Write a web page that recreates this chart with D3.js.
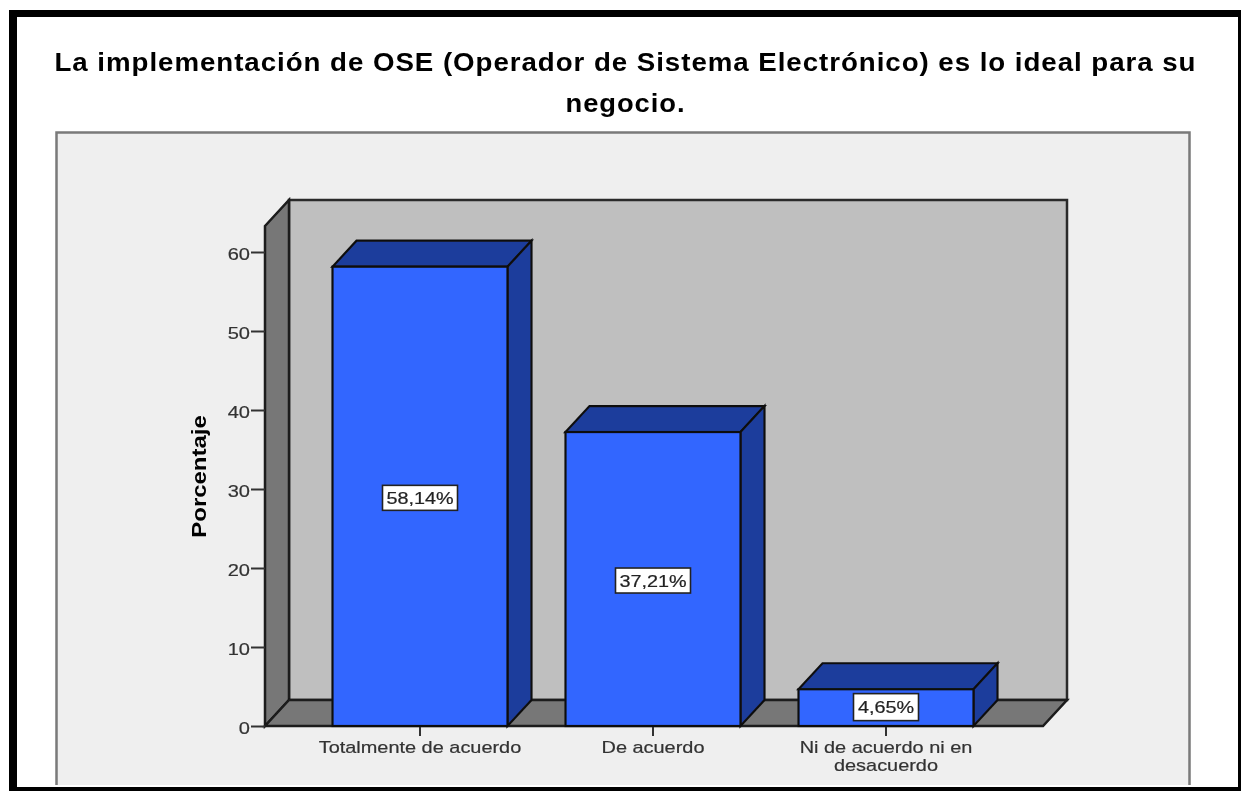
<!DOCTYPE html>
<html lang="es"><head><meta charset="utf-8">
<script src="https://cdn.jsdelivr.net/npm/d3@7/dist/d3.min.js"></script>
<style>html,body{margin:0;padding:0;background:#fff}svg{display:block;font-family:"Liberation Sans",Arial,sans-serif}</style>
</head><body><div id="chart"></div>
<script>
const categories = ["Totalmente de acuerdo", "De acuerdo", "Ni de acuerdo ni en desacuerdo"];
const percentages = [58.14, 37.21, 4.65];
const valueLabels = ["58,14%", "37,21%", "4,65%"];
const yTicks = [0, 10, 20, 30, 40, 50, 60];
const titleLines = ["La implementación de OSE (Operador de Sistema Electrónico) es lo ideal para su", "negocio."];
const yTitle = "Porcentaje";

const W = 1241, H = 791;
const svg = d3.select("#chart").append("svg").attr("width", W).attr("height", H);
const defs = svg.append("defs");
defs.append("filter").attr("id","soft").attr("filterUnits","userSpaceOnUse")
  .attr("x",0).attr("y",0).attr("width",W).attr("height",H)
  .append("feGaussianBlur").attr("stdDeviation",0.6);

// frame, unblurred
svg.append("rect").attr("x",9).attr("y",10).attr("width",W).attr("height",H).attr("fill","#000");
svg.append("rect").attr("x",17).attr("y",17).attr("width",1221).attr("height",770).attr("fill","#fff");

const g = svg.append("g").attr("filter","url(#soft)");

const dark = "#111";
const dx = 24, dy = -26;
const y = d3.scaleLinear().domain([0,60]).range([726,252]);
const x = d3.scaleBand().domain(categories).range([303.5,1002.5]).paddingInner(0.249).paddingOuter(0.1245);
const floorY = y(0), left = 265, right = 1043, topY = 226;
const line = d3.line();
// the reference's text is horizontally stretched: widen each text by a factor
const stretch = (sel, k) => sel.each(function(){
  const len = this.getComputedTextLength();
  d3.select(this).attr("textLength", len*k).attr("lengthAdjust","spacingAndGlyphs");
});
const thicken = (sel, c, w) => sel.attr("stroke",c).attr("stroke-width",w).attr("paint-order","stroke");

g.append("path").attr("d",line([[56.5,785],[56.5,132.5],[1189.5,132.5],[1189.5,785]])+"Z")
  .attr("fill","#efefef").attr("stroke","none");
g.append("path").attr("d",line([[56.5,785],[56.5,132.5],[1189.5,132.5],[1189.5,785]]))
  .attr("fill","none").attr("stroke","#7a7a7a").attr("stroke-width",2.5);
g.append("g").selectAll("text").data(titleLines).join("text")
  .attr("x",625.5).attr("y",(d,i)=>71+i*41).attr("text-anchor","middle")
  .attr("font-size",26).attr("font-weight","bold").attr("fill","#000")
  .attr("letter-spacing",0.9)
  .text(d=>d)
  .each(function(d,i){
    d3.select(this).attr("textLength",i===0?1142:120).attr("lengthAdjust","spacingAndGlyphs");
  });

// 3D box
g.append("path").attr("d",line([[left+dx,topY+dy],[right+dx,topY+dy],[right+dx,floorY+dy],[left+dx,floorY+dy]])+"Z")
  .attr("fill","#bfbfbf").attr("stroke","#2a2a2a").attr("stroke-width",2.5);
g.append("path").attr("d",line([[left,topY],[left+dx,topY+dy],[left+dx,floorY+dy],[left,floorY]])+"Z")
  .attr("fill","#777").attr("stroke","#1a1a1a").attr("stroke-width",2.5);
g.append("path").attr("d",line([[left,floorY],[left+dx,floorY+dy],[right+dx,floorY+dy],[right,floorY]])+"Z")
  .attr("fill","#777").attr("stroke","#1a1a1a").attr("stroke-width",2.5);

// axes
const yAxis = g.append("g").attr("transform",`translate(${left},0)`)
  .call(d3.axisLeft(y).tickValues(yTicks).tickSize(14).tickPadding(1));
yAxis.select(".domain").remove();
yAxis.selectAll("line").attr("stroke","#333").attr("stroke-width",2);
yAxis.selectAll("text").attr("font-size",17).attr("fill","#333").attr("font-family","inherit")
  .attr("dy","0.45em").call(stretch,1.18).call(thicken,"#333",0.2);

const xAxis = g.append("g").attr("transform",`translate(0,${floorY})`)
  .call(d3.axisBottom(x).tickSize(10).tickFormat(""));
xAxis.select(".domain").remove();
xAxis.selectAll("line").attr("stroke","#333").attr("stroke-width",2);
g.append("g").selectAll("text").data(categories).join("text")
  .attr("x",d=>x(d)+x.bandwidth()/2).attr("text-anchor","middle")
  .attr("font-size",16.2).attr("fill","#333")
  .each(function(d){
    const t=d3.select(this), words=d.split(" "), maxW=185;
    let cur="", lines=[];
    const ctx=document.createElement("canvas").getContext("2d");
    ctx.font='16.2px "Liberation Sans"';
    words.forEach(w=>{const n=cur?cur+" "+w:w; if(ctx.measureText(n).width>maxW&&cur){lines.push(cur);cur=w}else cur=n;});
    lines.push(cur);
    lines.forEach((l,i)=>{
      const s=t.append("tspan").attr("x",x(d)+x.bandwidth()/2).attr("y",floorY+27+i*18).text(l);
      const ts=g.append("text").attr("font-size",16.2).text(l);
      const len=ts.node().getComputedTextLength(); ts.remove();
      s.attr("textLength",len*1.23).attr("lengthAdjust","spacingAndGlyphs");
    });
  })
  .call(thicken,"#333",0.2);

g.append("text").attr("transform","translate(206,476.5) rotate(-90)").attr("text-anchor","middle")
  .attr("font-size",21).attr("font-weight","bold").attr("fill","#000").text(yTitle)
  .call(stretch,1.14);

// bars
const bars = g.append("g").selectAll("g").data(categories).join("g");
bars.each(function(c,i){
  const b=d3.select(this), x0=x(c), x1=x0+x.bandwidth(), yv=y(percentages[i]);
  b.append("path").attr("d",line([[x0,yv],[x0+dx,yv+dy],[x1+dx,yv+dy],[x1,yv]])+"Z")
    .attr("fill","#1f3d9c").attr("stroke",dark).attr("stroke-width",2.2);
  b.append("path").attr("d",line([[x1,yv],[x1+dx,yv+dy],[x1+dx,floorY+dy],[x1,floorY]])+"Z")
    .attr("fill","#1f3d9c").attr("stroke",dark).attr("stroke-width",2.2);
  b.append("rect").attr("x",x0).attr("y",yv).attr("width",x.bandwidth()).attr("height",floorY-yv)
    .attr("fill","#3366ff").attr("stroke",dark).attr("stroke-width",2.2);
  const cx=(x0+x1)/2, cy=y(percentages[i]/2)+(i===2?-0.5:1.5);
  const bw=i===2?65:75, bh=i===2?27:25;
  b.append("rect").attr("x",cx-bw/2).attr("y",cy-bh/2).attr("width",bw).attr("height",bh)
    .attr("fill","#fff").attr("stroke","#222").attr("stroke-width",1.6);
  b.append("text").attr("x",cx).attr("y",cy+6).attr("text-anchor","middle")
    .attr("font-size",16.5).attr("fill","#222").text(valueLabels[i])
    .call(stretch,1.2).call(thicken,"#222",0.2);
});
</script></body></html>
